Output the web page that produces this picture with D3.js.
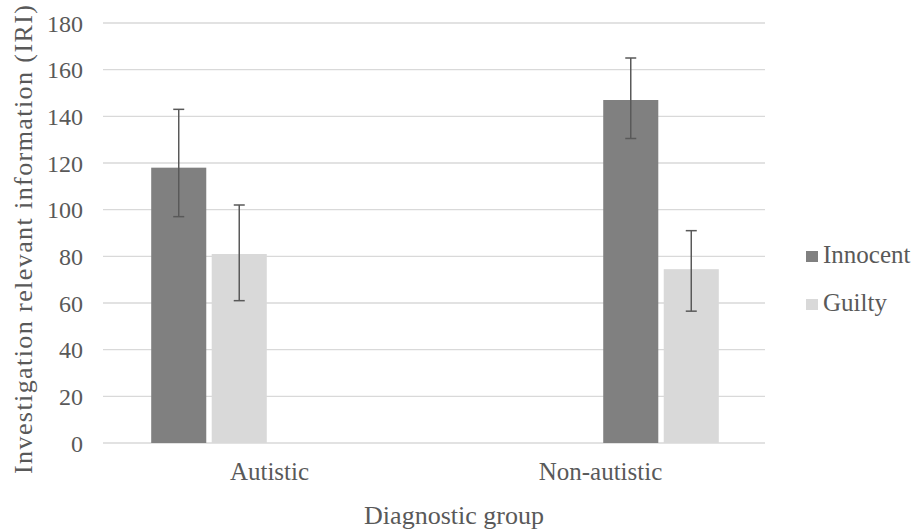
<!DOCTYPE html>
<html><head><meta charset="utf-8">
<script src="https://cdn.jsdelivr.net/npm/d3@7"></script>
</head><body style="margin:0;background:#fff"><svg id="c" width="911" height="530"></svg>
<script>
const categories = ["Autistic", "Non-autistic"];
const seriesNames = ["Innocent", "Guilty"];
const innocent = [118, 147];
const guilty = [81, 74.5];
const innocentLow = [97, 130.5];
const innocentHigh = [143, 165];
const guiltyLow = [61, 56.5];
const guiltyHigh = [102, 91];
const yTicks = [0, 20, 40, 60, 80, 100, 120, 140, 160, 180];
const colors = ["#808080", "#d9d9d9"];

(function(){
const FONT = "Liberation Serif";
const TXT = "#595959";
const svg = d3.select("#c");
const mL = 103, mR = 765, mT = 23, mB = 443;
const x = d3.scaleBand().domain(categories).range([mL + 1, mR + 1]).paddingInner(0).paddingOuter(0);
const y = d3.scaleLinear().domain([0, 180]).range([mB, mT]);
// four sub-slots per category (Excel layout with 4 series); each category uses two
const slots = d3.scaleBand().domain([0,1,2,3]).range([0, x.bandwidth()]).paddingInner(0.09).paddingOuter(0.78);
const slotStart = [0, 2];

svg.append("g").selectAll("line").data(yTicks).join("line")
  .attr("x1", mL).attr("x2", mR)
  .attr("y1", d => y(d)).attr("y2", d => y(d))
  .attr("stroke", "#d9d9d9").attr("stroke-width", 1.3);

const yAxis = d3.axisLeft(y).tickValues(yTicks).tickSize(0).tickPadding(20);
const ya = svg.append("g").attr("transform", `translate(${mL},0)`).call(yAxis)
  .attr("font-family", FONT).attr("font-size", 24);
ya.select(".domain").remove();
ya.selectAll("text").attr("font-family", FONT).attr("font-size", 24).attr("fill", TXT).attr("dy", "0.34em");

const xAxis = d3.axisBottom(x).tickSize(0).tickPadding(0);
const xa = svg.append("g").attr("transform", `translate(0,${mB})`).call(xAxis)
  .attr("font-family", FONT).attr("font-size", 25);
xa.select(".domain").remove();
xa.selectAll("text").attr("font-family", FONT).attr("font-size", 25).attr("fill", TXT).attr("y", 37).attr("dy", 0);

const data = [];
categories.forEach((c, i) => {
  data.push({c, i, s: 0, v: innocent[i], lo: innocentLow[i], hi: innocentHigh[i]});
  data.push({c, i, s: 1, v: guilty[i], lo: guiltyLow[i], hi: guiltyHigh[i]});
});
const bx = d => x(d.c) + slots(slotStart[d.i] + d.s);

svg.append("g").selectAll("rect").data(data).join("rect")
  .attr("x", bx).attr("width", slots.bandwidth())
  .attr("y", d => y(d.v)).attr("height", d => y(0) - y(d.v))
  .attr("fill", d => colors[d.s]);

const eb = svg.append("g").attr("stroke", "#595959").attr("stroke-width", 1.5);
data.forEach(d => {
  const cx = bx(d) + slots.bandwidth() / 2;
  eb.append("line").attr("x1", cx).attr("x2", cx).attr("y1", y(d.hi)).attr("y2", y(d.lo));
  eb.append("line").attr("x1", cx - 5.5).attr("x2", cx + 5.5).attr("y1", y(d.hi)).attr("y2", y(d.hi));
  eb.append("line").attr("x1", cx - 5.5).attr("x2", cx + 5.5).attr("y1", y(d.lo)).attr("y2", y(d.lo));
});

const lg = svg.append("g");
seriesNames.forEach((n, i) => {
  const base = 263 + i * 48;
  lg.append("rect").attr("x", 806).attr("y", base - 12).attr("width", 12).attr("height", 11).attr("fill", colors[i]);
  lg.append("text").attr("x", 823).attr("y", base).attr("font-size", 25)
    .attr("font-family", FONT).attr("fill", TXT).text(n);
});

svg.append("text").attr("transform", "translate(32,239.5) rotate(-90)")
  .attr("text-anchor", "middle").attr("font-size", 26).attr("font-family", FONT).attr("fill", TXT)
  .attr("textLength", 469).attr("lengthAdjust", "spacing")
  .text("Investigation relevant information (IRI)");
svg.append("text").attr("x", 454).attr("y", 524)
  .attr("text-anchor", "middle").attr("font-size", 26).attr("font-family", FONT).attr("fill", TXT)
  .text("Diagnostic group");
})();
</script></body></html>
